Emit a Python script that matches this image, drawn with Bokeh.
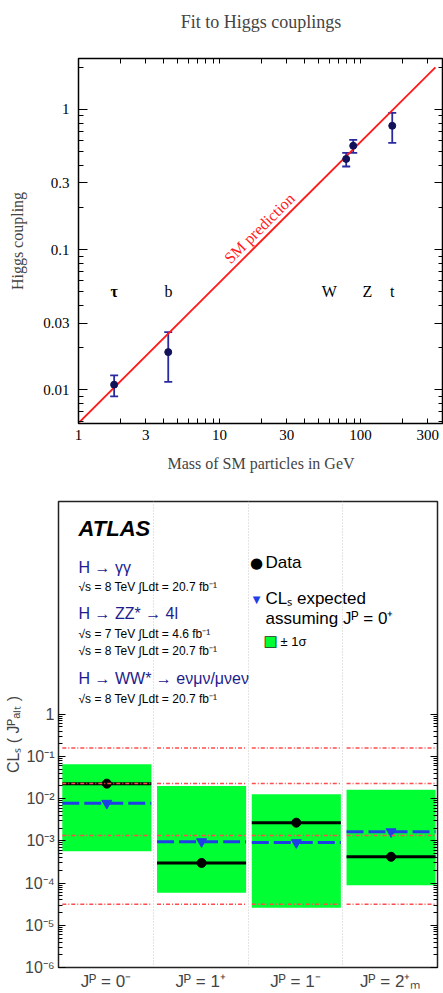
import numpy as np
from bokeh.plotting import figure
from bokeh.models import (Range1d, FixedTicker, LogAxis, Whisker, TeeHead, ColumnDataSource,
                          Label, Title, CustomJSTickFormatter)
from bokeh.core.properties import value
from bokeh.embed import file_html
from bokeh.resources import INLINE

# ---------------- top chart data ----------------
particles = ["τ", "b", "W", "Z", "t"]
particle_style = ["bold", "normal", "normal", "normal", "normal"]
particle_mass = [1.79, 4.33, 79.2, 88.8, 168.0]
coupling = [0.0109, 0.0186, 0.444, 0.551, 0.765]
coupling_hi = [0.0127, 0.0258, 0.491, 0.607, 0.947]
coupling_lo = [0.0090, 0.0114, 0.392, 0.491, 0.578]
label_mass = [1.79, 4.35, 60.0, 112.0, 168.0]
label_coupling = [0.05, 0.05, 0.05, 0.05, 0.05]
sm_mass = [1.0, 340.0]
sm_coupling = [0.0058, 2.0]
x_major = [1, 3, 10, 30, 100, 300]
y_major = [0.01, 0.03, 0.1, 0.3, 1.0]

# ---------------- bottom chart data ----------------
categories = ["Jᴾ = 0⁻", "Jᴾ = 1⁺", "Jᴾ = 1⁻", "Jᴾ = 2⁺ₘ"]
cls_observed = [0.0227, 3.0e-4, 2.7e-3, 4.2e-4]
cls_expected = [7.8e-3, 9.6e-4, 9.1e-4, 1.65e-3]
band_low = [5.7e-4, 5.9e-5, 2.6e-5, 8.9e-5]
band_high = [0.065, 0.020, 0.0127, 0.0163]
sigma_levels = [0.1587, 0.0228, 0.00135, 3.17e-5]
y_decades = [1e-6, 1e-5, 1e-4, 1e-3, 1e-2, 1e-1, 1.0]

SERIF = "Liberation Serif"
SANS = "Liberation Sans"
BLANK = CustomJSTickFormatter(code="return '';")

# ======================= TOP FIGURE =======================
X_MAX, Y_MIN, Y_MAX = 388, 0.00576, 2.31
p1 = figure(width=443, height=475, x_axis_type="log", y_axis_type="log",
            x_range=Range1d(1, X_MAX), y_range=Range1d(Y_MIN, Y_MAX),
            output_backend="svg", toolbar_location=None,
            min_border_left=78, min_border_top=58, min_border_right=0, min_border_bottom=52)
p1.grid.visible = False
p1.outline_line_color = "black"
p1.outline_line_width = 1.5

x_minor = sorted({k * 10 ** n for n in range(0, 3) for k in range(1, 10)} - set(x_major))
x_minor = [v for v in x_minor if v <= X_MAX]
y_minor = sorted({round(k * 10.0 ** n, 6) for n in range(-3, 1) for k in range(1, 10)})
y_minor = [v for v in y_minor if Y_MIN <= v <= Y_MAX]

xt = FixedTicker(ticks=x_major, minor_ticks=x_minor)
yt = FixedTicker(ticks=y_major, minor_ticks=y_minor)

p1.xaxis.ticker = xt
p1.yaxis.ticker = yt
for ax in (p1.xaxis[0], p1.yaxis[0]):
    ax.major_label_text_font = SERIF
    ax.major_label_text_font_size = "15px"
    ax.major_label_text_color = "black"
    ax.axis_label_text_font = SERIF
    ax.axis_label_text_font_size = "16px"
    ax.axis_label_text_font_style = "normal"
    ax.axis_line_color = "black"
    ax.major_tick_out = 0
    ax.minor_tick_out = 0
p1.xaxis.major_tick_in = 5
p1.xaxis.minor_tick_in = 5
p1.yaxis.major_tick_in = 9
p1.yaxis.minor_tick_in = 5
p1.xaxis.major_label_standoff = 6
p1.yaxis.major_label_standoff = 9
p1.xaxis.axis_label = "Mass of SM particles in GeV"
p1.xaxis.axis_label_standoff = 12
p1.yaxis.axis_label = "Higgs coupling"
p1.yaxis.axis_label_standoff = 14
p1.xaxis.formatter = CustomJSTickFormatter(code="return String(tick);")
p1.yaxis.formatter = CustomJSTickFormatter(code="return String(tick);")

p1.add_layout(LogAxis(ticker=yt, formatter=BLANK, major_label_text_font_size="8px",
                      major_label_standoff=0, major_tick_in=9, major_tick_out=0,
                      minor_tick_in=5, minor_tick_out=0, axis_line_color="black"), "right")
# the chart title is carried as the label of the top frame axis
p1.add_layout(LogAxis(ticker=xt, formatter=BLANK, major_label_text_font_size="8px",
                      major_label_standoff=0, major_tick_in=5, major_tick_out=0,
                      minor_tick_in=5, minor_tick_out=0, axis_line_color="black",
                      axis_label="Fit to Higgs couplings", axis_label_text_font=SERIF,
                      axis_label_text_font_size="18px", axis_label_text_font_style="normal",
                      axis_label_standoff=27), "above")

p1.line(sm_mass, sm_coupling, line_color="#ff1a1a", line_width=1.8)
p1.text(x=[19.2], y=[0.1425], text=["SM prediction"], angle=0.782,
        text_color="#ff1a1a", text_font=value(SERIF), text_font_size="16px",
        text_align="center", text_baseline="middle")

src = ColumnDataSource(dict(x=particle_mass, y=coupling, hi=coupling_hi, lo=coupling_lo))
p1.add_layout(Whisker(source=src, base="x", upper="hi", lower="lo", dimension="height",
                      line_color="#2a2aa0", line_width=1.8,
                      upper_head=TeeHead(size=8, line_color="#2a2aa0", line_width=1.8),
                      lower_head=TeeHead(size=8, line_color="#2a2aa0", line_width=1.8)))
p1.scatter("x", "y", source=src, size=7, color="#12125a")
lsrc = ColumnDataSource(dict(x=label_mass, y=label_coupling, t=particles, s=particle_style))
p1.text(x="x", y="y", text="t", text_font_style="s", source=lsrc, text_font=value(SERIF),
        text_font_size="16px", text_align="center", text_baseline="middle", text_color="black")

# ======================= BOTTOM FIGURE =======================
p2 = figure(width=443, height=518, y_axis_type="log",
            x_range=Range1d(0, len(categories)), y_range=Range1d(1e-6, 1.1e5),
            output_backend="svg", toolbar_location=None,
            min_border_left=58, min_border_top=26, min_border_right=6, min_border_bottom=26)
p2.outline_line_color = "#222222"
p2.outline_line_width = 1.5
p2.ygrid.visible = False
p2.xgrid.ticker = FixedTicker(ticks=list(range(1, len(categories))))
p2.xgrid.grid_line_color = "#c8c8c8"
p2.xgrid.grid_line_dash = "1 2"
p2.xgrid.grid_line_width = 1

idx = np.arange(len(categories))
left = idx + 0.04
right = idx + 0.98
mid = idx + 0.51

bsrc = ColumnDataSource(dict(left=left, right=right, mid=mid, lo=band_low, hi=band_high,
                             obs=cls_observed, exp=cls_expected))
p2.quad(left="left", right="right", bottom="lo", top="hi", source=bsrc,
        fill_color="#00ff33", line_color=None)
p2.segment(x0="left", x1="right", y0="exp", y1="exp", source=bsrc,
           line_color="#1f3fe6", line_width=3, line_dash="17 5")
p2.scatter("mid", "exp", source=bsrc, marker="inverted_triangle", size=10,
           color="#1f3fe6")
p2.segment(x0="left", x1="right", y0="obs", y1="obs", source=bsrc,
           line_color="black", line_width=3)
p2.scatter("mid", "obs", source=bsrc, size=9, color="black")

# sigma reference lines, one piece per column
sl_x0 = [l for lvl in sigma_levels for l in left]
sl_x1 = [r for lvl in sigma_levels for r in right]
sl_y = [lvl for lvl in sigma_levels for _ in left]
p2.segment(x0=sl_x0, x1=sl_x1, y0=sl_y, y1=sl_y, line_color="#ff4d4d",
           line_width=1.5, line_dash="4 2 1 2")

y2_minor = [round(k * 10.0 ** n, 12) for n in range(-6, 0) for k in range(2, 10)]
yt2 = FixedTicker(ticks=y_decades, minor_ticks=y2_minor)
sup_code = """
const e = Math.round(Math.log10(tick));
if (e === 0) return "1";
const m = {"-":"\u207b","0":"\u2070","1":"\u00b9","2":"\u00b2","3":"\u00b3","4":"\u2074","5":"\u2075","6":"\u2076","7":"\u2077","8":"\u2078","9":"\u2079"};
return "10" + String(e).split("").map(c => m[c]).join("");
"""
ya = p2.yaxis[0]
ya.ticker = yt2
ya.formatter = CustomJSTickFormatter(code=sup_code)
ya.major_label_text_font = SANS
ya.major_label_text_font_size = "16px"
ya.major_label_standoff = 4
ya.major_tick_in = 7
ya.major_tick_out = 0
ya.minor_tick_in = 4
ya.minor_tick_out = 0
ya.axis_line_color = "#222222"

p2.add_layout(Title(text="CLₛ ( Jᴾₐₗₜ )", align="center", text_font=SANS,
                    text_font_size="16px", text_font_style="normal", standoff=0), "left")

xa = p2.xaxis[0]
xa.ticker = FixedTicker(ticks=list(idx + 0.5))
xa.formatter = CustomJSTickFormatter(args=dict(labels=categories),
                                     code="return labels[Math.floor(tick)] || '';")
xa.major_tick_in = 0
xa.major_tick_out = 0
xa.minor_tick_in = 0
xa.minor_tick_out = 0
xa.major_label_text_font = SANS
xa.major_label_text_font_size = "17px"
xa.major_label_standoff = 4
xa.axis_line_color = "#222222"

p2.add_layout(LogAxis(ticker=yt2, formatter=BLANK, major_label_text_font_size="8px",
                      major_label_standoff=0,
                      major_tick_in=7, major_tick_out=0, minor_tick_in=4, minor_tick_out=0,
                      axis_line_color="#222222"), "right")

# legend-like texts (screen units relative to frame, y upward)
NAVY = "#1c1c8c"
def lab(x, y, t, size, color="black", style="normal", align="left", font=SANS):
    p2.add_layout(Label(x=x, y=y, x_units="screen", y_units="screen", text=t,
                        text_font=font, text_font_size=size, text_color=color,
                        text_font_style=style, text_align=align, text_baseline="middle"))

lab(20, 438.7, "ATLAS", "22px", style="bold italic")
lab(20, 399.7, "H → γγ", "16px", NAVY)
lab(20, 380.7, "√s = 8 TeV ∫Ldt = 20.7 fb⁻¹", "12px")
lab(20, 353.7, "H → ZZ* → 4l", "16px", NAVY)
lab(20, 333.7, "√s = 7 TeV ∫Ldt = 4.6 fb⁻¹", "12px")
lab(20, 316.7, "√s = 8 TeV ∫Ldt = 20.7 fb⁻¹", "12px")
lab(20, 288.7, "H → WW* → eνμν/μνeν", "16px", NAVY)
lab(20, 268.5, "√s = 8 TeV ∫Ldt = 20.7 fb⁻¹", "12px")

lab(198, 404.7, "●", "15px", align="center", font="DejaVu Sans")
lab(207, 404.7, "Data", "17px")
lab(198, 367.7, "▼", "10px", "#1f3fe6", align="center", font="DejaVu Sans")
lab(207, 369, "CLₛ expected", "17px")
lab(207, 348.7, "assuming Jᴾ = 0⁺", "17px")
lab(212, 326.5, "■", "15px", "#00ff33", align="center", font="DejaVu Sans")
lab(212, 326.5, "□", "15px", "#333333", align="center", font="DejaVu Sans")
lab(222, 326, "± 1σ", "13px")

# two independent roots, stacked, so that their frames are not aligned to each other
open("out.html", "w").write(file_html([p1, p2], INLINE))
